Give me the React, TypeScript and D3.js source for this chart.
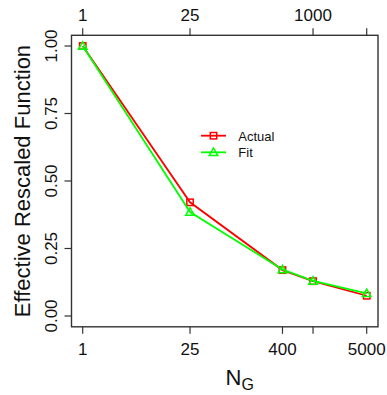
import React from "react";
import * as d3 from "d3";

const NG = [1, 25, 400, 1000, 5000];
const actual = [1.0, 0.421, 0.17, 0.129, 0.075];
const fit = [1.0, 0.385, 0.172, 0.13, 0.084];

const bottomTicks = [1, 25, 400, 1000, 5000];
const bottomLabels = ["1", "25", "400", "", "5000"];
const topTicks = [1, 25, 1000, 5000];
const topLabels = ["1", "25", "1000", ""];
const yTicks = [0, 0.25, 0.5, 0.75, 1.0];
const yLabels = ["0.00", "0.25", "0.50", "0.75", "1.00"];

const seriesNames = ["Actual", "Fit"];
const seriesColors = ["#FF0000", "#00FF00"];

const W = 387;
const H = 395;
const FONT = "'Liberation Sans', Arial, Helvetica, sans-serif";

export default function App() {
  const x = d3.scaleLog().domain([1, 5000]).range([82.7, 366.7]);
  const y = d3.scaleLinear().domain([0, 1]).range([316, 46]);
  const box = { x0: 71.5, x1: 378, y0: 35.3, y1: 326.8 };
  const axisCol = "#333";

  const line = d3
    .line<[number, number]>()
    .x((d) => x(d[0]))
    .y((d) => y(d[1]));

  const series = [actual, fit].map((vals) =>
    NG.map((n, i) => [n, vals[i]] as [number, number])
  );

  const square = (cx: number, cy: number, color: string, key: string) => (
    <rect
      key={key}
      x={cx - 3.2}
      y={cy - 3.2}
      width={6.4}
      height={6.4}
      fill="none"
      stroke={color}
      strokeWidth={1.5}
    />
  );
  const triangle = (cx: number, cy: number, color: string, key: string) => {
    const s = 4.3;
    const p = `M${cx},${cy - s} L${cx + s},${cy + s * 0.75} L${cx - s},${cy + s * 0.75} Z`;
    return <path key={key} d={p} fill="none" stroke={color} strokeWidth={1.5} />;
  };
  const markers = [square, triangle];

  const legendX0 = 201;
  const legendX1 = 226;
  const legendYs = [135.7, 152.3];

  return (
    <svg
      width={W}
      height={H}
      style={{ position: "absolute", left: 0, top: 0, background: "#fff" }}
      fontFamily={FONT}
    >
      <rect x={0} y={0} width={W} height={H} fill="#fff" />
      {/* box */}
      <rect
        x={box.x0}
        y={box.y0}
        width={box.x1 - box.x0}
        height={box.y1 - box.y0}
        fill="none"
        stroke={axisCol}
        strokeWidth={1.4}
      />
      {/* bottom axis */}
      {bottomTicks.map((t, i) => (
        <g key={"b" + i}>
          <line x1={x(t)} x2={x(t)} y1={box.y1} y2={box.y1 + 7} stroke={axisCol} strokeWidth={1.2} />
          <text x={x(t)} y={354.5} fontSize={17} textAnchor="middle" fill="#111">
            {bottomLabels[i]}
          </text>
        </g>
      ))}
      {/* top axis */}
      {topTicks.map((t, i) => (
        <g key={"t" + i}>
          <line x1={x(t)} x2={x(t)} y1={box.y0} y2={box.y0 - 7} stroke={axisCol} strokeWidth={1.2} />
          <text x={x(t)} y={20.8} fontSize={17} textAnchor="middle" fill="#111">
            {topLabels[i]}
          </text>
        </g>
      ))}
      {/* left axis */}
      {yTicks.map((t, i) => (
        <g key={"y" + i}>
          <line x1={box.x0} x2={box.x0 - 7} y1={y(t)} y2={y(t)} stroke={axisCol} strokeWidth={1.2} />
          <text
            transform={`translate(57.3,${y(t)}) rotate(-90)`}
            fontSize={17}
            textAnchor="middle"
            fill="#111"
          >
            {yLabels[i]}
          </text>
        </g>
      ))}
      {/* axis titles */}
      <text
        transform={`translate(29.5,${(box.y0 + box.y1) / 2}) rotate(-90)`}
        fontSize={22}
        textAnchor="middle"
        fill="#111"
      >
        Effective Rescaled Function
      </text>
      <text x={225.5} y={385} fontSize={22} fill="#111">
        N
        <tspan fontSize={16} dy={5}>
          G
        </tspan>
      </text>
      {/* series */}
      {series.map((pts, si) => (
        <g key={"s" + si}>
          <path d={line(pts) || ""} fill="none" stroke={seriesColors[si]} strokeWidth={1.8} />
          {pts.map((p, pi) => markers[si](x(p[0]), y(p[1]), seriesColors[si], `m${si}-${pi}`))}
        </g>
      ))}
      {/* legend */}
      {seriesNames.map((name, i) => (
        <g key={"l" + i}>
          <line
            x1={legendX0}
            x2={legendX1}
            y1={legendYs[i]}
            y2={legendYs[i]}
            stroke={seriesColors[i]}
            strokeWidth={1.8}
          />
          {markers[i]((legendX0 + legendX1) / 2, legendYs[i], seriesColors[i], "lm" + i)}
          <text x={238.3} y={legendYs[i] + 4.8} fontSize={13} fill="#111">
            {name}
          </text>
        </g>
      ))}
    </svg>
  );
}
